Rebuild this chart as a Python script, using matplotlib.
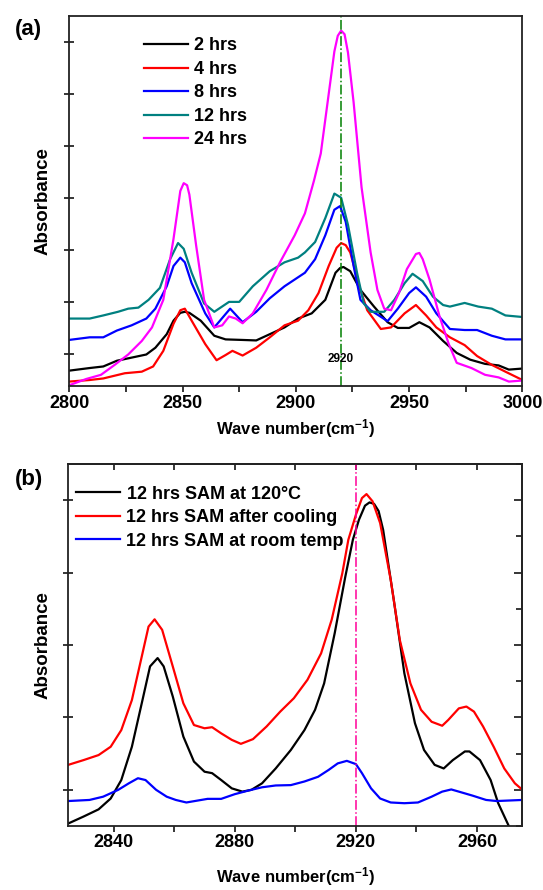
# FTIR absorbance spectra of SAM films: (a) growth time, (b) temperature
import matplotlib.pyplot as plt
from matplotlib.ticker import MultipleLocator, NullFormatter

plt.rcParams['font.family'] = ['Liberation Sans', 'DejaVu Sans']
plt.rcParams['font.weight'] = 'bold'
plt.rcParams['axes.labelweight'] = 'bold'
plt.rcParams['mathtext.fontset'] = 'custom'
plt.rcParams['mathtext.rm'] = 'Liberation Sans'
plt.rcParams['mathtext.default'] = 'regular'

# ---- panel (a) ----
x_2h = [2800, 2809, 2815, 2821, 2827.5, 2834, 2838, 2843, 2846, 2849, 2851, 2853, 2858, 2864,
        2869, 2876, 2882.5, 2888.5, 2895, 2901, 2907, 2913, 2917.5, 2919.5, 2921, 2924, 2928.5,
        2934.5, 2940.5, 2945, 2950, 2954.5, 2959, 2965, 2971, 2977, 2983.5, 2989.5, 2994, 3000]
y_2h = [0.69, 0.74, 0.77, 0.88, 0.94, 1.00, 1.13, 1.39, 1.65, 1.80, 1.82, 1.80, 1.65, 1.36,
        1.29, 1.28, 1.27, 1.39, 1.52, 1.69, 1.79, 2.05, 2.57, 2.66, 2.68, 2.60, 2.24,
        1.92, 1.62, 1.51, 1.51, 1.62, 1.52, 1.26, 1.03, 0.90, 0.82, 0.79, 0.71, 0.73]

x_4h = [2800, 2809, 2815, 2824.5, 2832, 2837, 2841.5, 2846, 2849, 2851, 2854, 2860, 2865, 2869,
        2872, 2876.5, 2882.5, 2888.5, 2895, 2901, 2905.5, 2910, 2914.5, 2918, 2920, 2922,
        2924, 2928.5, 2931.5, 2937.5, 2942, 2948, 2953, 2957.5, 2962, 2968, 2974.5, 2980,
        2986.5, 2992.5, 3000]
y_4h = [0.48, 0.51, 0.54, 0.64, 0.67, 0.77, 1.07, 1.59, 1.85, 1.88, 1.65, 1.20, 0.89, 0.99,
        1.07, 0.98, 1.13, 1.33, 1.56, 1.65, 1.85, 2.18, 2.70, 3.05, 3.14, 3.10,
        2.96, 2.24, 1.85, 1.49, 1.52, 1.79, 1.95, 1.75, 1.52, 1.33, 1.18, 0.97,
        0.80, 0.67, 0.51]

x_8h = [2800, 2809, 2815, 2821, 2827.5, 2834, 2838, 2843, 2846, 2849, 2851, 2854, 2860, 2864,
        2871, 2876.5, 2882.5, 2888.5, 2895, 2904, 2908.5, 2913, 2917, 2919.5, 2922, 2925.5,
        2928.5, 2933, 2940.5, 2945, 2950, 2953, 2957.5, 2962, 2968, 2974.5, 2980, 2986.5,
        2992.5, 3000]
y_8h = [1.28, 1.33, 1.33, 1.46, 1.56, 1.69, 1.88, 2.31, 2.70, 2.86, 2.77, 2.37, 1.79, 1.52,
        1.88, 1.62, 1.82, 2.08, 2.31, 2.57, 2.83, 3.29, 3.78, 3.85, 3.55, 2.70,
        2.05, 1.85, 1.64, 1.88, 2.18, 2.29, 2.11, 1.79, 1.49, 1.47, 1.47, 1.36,
        1.29, 1.29]

x_12h = [2800, 2809, 2815, 2821.5, 2826, 2830.5, 2835, 2840, 2844.5, 2848, 2850.5, 2854, 2859.5,
         2864, 2870.5, 2875, 2881, 2888.5, 2895, 2901, 2904, 2908.5, 2913, 2917, 2920, 2923,
         2927, 2930, 2933, 2939, 2943.5, 2948, 2951.5, 2956, 2960.5, 2965, 2968, 2974.5,
         2980.5, 2986.5, 2992.5, 3000]
y_12h = [1.69, 1.69, 1.75, 1.82, 1.88, 1.90, 2.05, 2.28, 2.83, 3.14, 3.03, 2.57, 1.98,
         1.82, 2.01, 2.01, 2.31, 2.60, 2.77, 2.86, 2.96, 3.16, 3.62, 4.09, 4.01, 3.49,
         2.57, 1.98, 1.82, 1.82, 2.05, 2.37, 2.55, 2.41, 2.11, 1.95, 1.92, 1.99,
         1.92, 1.88, 1.75, 1.72]

x_24h = [2800, 2807.5, 2814, 2820, 2826, 2832, 2836.5, 2841.5, 2846, 2849, 2850.5, 2852, 2853,
         2856, 2859.5, 2864, 2867.5, 2870.5, 2873.5, 2876.5, 2881, 2887, 2893, 2899.5, 2904,
         2908, 2911, 2914, 2917, 2918.5, 2920, 2921.5, 2923, 2925.5, 2929, 2933, 2936, 2939,
         2942, 2945.5, 2949, 2953, 2954.5, 2956, 2959, 2963.5, 2967.5, 2971, 2977.5, 2983.5,
         2989.5, 2994, 3000]
y_24h = [0.41, 0.53, 0.61, 0.80, 1.00, 1.26, 1.52, 2.05, 3.22, 4.14, 4.29, 4.25, 4.07,
         3.09, 2.05, 1.52, 1.56, 1.73, 1.69, 1.60, 1.79, 2.24, 2.77, 3.29, 3.71,
         4.34, 4.86, 5.84, 6.82, 7.12, 7.22, 7.15, 6.80, 5.84, 4.21, 2.96, 2.24, 1.88,
         1.85, 2.18, 2.64, 2.93, 2.95, 2.83, 2.44, 1.72, 1.20, 0.84, 0.74, 0.61,
         0.56, 0.48, 0.50]

labels_a = ['2 hrs', '4 hrs', '8 hrs', '12 hrs', '24 hrs']
colors_a = ['black', '#ff0000', '#0000ff', '#008080', '#ff00ff']

# ---- panel (b) ----
x_hot = [2825, 2830, 2835, 2839, 2842.5, 2846, 2849.5, 2852, 2854.5, 2856.5, 2859.5, 2863,
         2866.5, 2870, 2872.5, 2875.5, 2879, 2882.5, 2885.5, 2889, 2893.5, 2898.5, 2903,
         2906.5, 2909.5, 2913, 2916.5, 2919, 2921, 2923, 2924.5, 2926, 2927.5, 2929, 2932.5,
         2936, 2939.5, 2942.5, 2946, 2949, 2952, 2956, 2957.5, 2961, 2964.5, 2967, 2970.5,
         2975]
y_hot = [0.07, 0.26, 0.46, 0.76, 1.27, 2.19, 3.48, 4.41, 4.64, 4.41, 3.58, 2.47,
         1.78, 1.50, 1.46, 1.27, 1.04, 0.95, 1.00, 1.18, 1.59, 2.10, 2.65,
         3.21, 3.94, 5.33, 6.89, 7.91, 8.46, 8.85, 8.94, 8.90, 8.70, 8.18, 6.25,
         4.22, 2.84, 2.10, 1.69, 1.59, 1.82, 2.06, 2.06, 1.82, 1.27, 0.63, 0.0,
         -0.9]

x_cool = [2825, 2830, 2835, 2839, 2842.5, 2846, 2849.5, 2851.5, 2853.5, 2856, 2859.5, 2863,
          2866.5, 2870, 2872.5, 2875.5, 2879, 2882, 2886, 2890.5, 2895, 2899.5, 2904, 2908.5,
          2912, 2915.5, 2917.5, 2920, 2922, 2923.5, 2925.5, 2928, 2931.5, 2934.5, 2938,
          2941.5, 2945, 2948.5, 2950.5, 2954, 2956.5, 2959, 2962, 2965.5, 2969, 2972.5, 2975]
y_cool = [1.69, 1.82, 1.96, 2.19, 2.65, 3.48, 4.77, 5.51, 5.71, 5.42, 4.41, 3.39,
          2.79, 2.70, 2.73, 2.56, 2.38, 2.27, 2.40, 2.75, 3.16, 3.53, 4.04, 4.77,
          5.70, 6.98, 7.91, 8.60, 9.06, 9.17, 8.97, 8.37, 6.80, 5.14, 3.94,
          3.21, 2.88, 2.77, 2.93, 3.25, 3.30, 3.16, 2.75, 2.19, 1.59, 1.18, 1.0]

x_room = [2825, 2832, 2836.5, 2841.5, 2845, 2848, 2850.5, 2854, 2857.5, 2860.5, 2864, 2867.5,
          2871, 2875.5, 2880, 2884.5, 2889, 2893.5, 2898.5, 2903, 2907.5, 2911, 2914, 2917,
          2920, 2922, 2925, 2928, 2931.5, 2936, 2940.5, 2945, 2948.5, 2951.5, 2954, 2958.5,
          2963, 2966.5, 2975]
y_room = [0.69, 0.72, 0.81, 1.00, 1.18, 1.32, 1.27, 1.00, 0.81, 0.72, 0.65, 0.70,
          0.75, 0.75, 0.88, 0.98, 1.07, 1.12, 1.13, 1.23, 1.36, 1.55, 1.73, 1.80,
          1.71, 1.46, 1.04, 0.76, 0.65, 0.63, 0.65, 0.81, 0.95, 1.01, 0.95, 0.84,
          0.72, 0.69, 0.72]

labels_b = ['12 hrs SAM at 120$°C$', '12 hrs SAM after cooling', '12 hrs SAM at room temp']
colors_b = ['black', '#ff0000', '#0000ff']

peak_pos = 2920
xlabel = 'Wave number(cm$^{-1}$)'


def style_spines(ax):
    for sp in ax.spines.values():
        sp.set_linewidth(1.3)
        sp.set_color('#222222')


def main():
    fig = plt.figure(figsize=(5.43, 8.90), dpi=100)
    leg_kw = dict(loc='upper left', frameon=False, fontsize=13, borderpad=0, borderaxespad=0,
                  handlelength=2.45, handletextpad=0.3, labelspacing=0.36)

    # (a)
    ax = fig.add_axes([0.1276, 0.5660, 0.8345, 0.4160])
    series_a = [(x_2h, y_2h), (x_4h, y_4h), (x_8h, y_8h), (x_12h, y_12h), (x_24h, y_24h)]
    for (xs, ys), lab, col in zip(series_a, labels_a, colors_a):
        ax.plot(xs, ys, color=col, lw=1.6, label=lab, solid_joinstyle='round')
    ax.axvline(peak_pos, color='#008000', lw=1.1, ls='-.')
    ax.text(peak_pos, 0.92, str(peak_pos), ha='center', va='center', fontsize=8.5)

    ax.set_xlim(2800, 3000)
    ax.set_ylim(0.39, 7.5)
    ax.xaxis.set_major_locator(MultipleLocator(50))
    ax.xaxis.set_minor_locator(MultipleLocator(25))
    ax.yaxis.set_major_locator(MultipleLocator(1))
    ax.yaxis.set_major_formatter(NullFormatter())
    ax.tick_params(axis='x', which='both', direction='out', length=4, width=1.1,
                   labelsize=13, pad=2)
    ax.tick_params(axis='y', direction='inout', length=7, width=1.1)
    style_spines(ax)
    ax.set_xlabel(xlabel, fontsize=12, va='center')
    ax.xaxis.set_label_coords(0.5, -0.115)
    ax.set_ylabel('Absorbance', fontsize=13.5, va='center')
    ax.yaxis.set_label_coords(-0.058, 0.5)
    ax.legend(bbox_to_anchor=(0.165, 0.942), **leg_kw)
    fig.text(0.052, 0.967, '(a)', fontsize=16, ha='center', va='center')

    # (b)
    bx = fig.add_axes([0.1258, 0.0719, 0.8363, 0.4067])
    series_b = [(x_hot, y_hot), (x_cool, y_cool), (x_room, y_room)]
    for (xs, ys), lab, col in zip(series_b, labels_b, colors_b):
        bx.plot(xs, ys, color=col, lw=1.6, label=lab, solid_joinstyle='round')
    bx.axvline(peak_pos, color='#ff0099', lw=1.1, ls='-.')

    bx.set_xlim(2825, 2975)
    bx.set_ylim(0, 10)
    bx.xaxis.set_major_locator(MultipleLocator(40))
    bx.xaxis.set_minor_locator(MultipleLocator(20))
    bx.yaxis.set_major_locator(MultipleLocator(2, offset=1))
    bx.yaxis.set_major_formatter(NullFormatter())
    bx.tick_params(axis='x', which='both', direction='out', length=4, width=1.1,
                   labelsize=13, pad=2)
    bx.tick_params(axis='y', direction='inout', length=7, width=1.1)
    style_spines(bx)

    top = bx.secondary_xaxis('top')
    top.xaxis.set_major_locator(MultipleLocator(20))
    top.tick_params(direction='in', length=4, width=1.1, labeltop=False)
    right = bx.secondary_yaxis('right')
    right.yaxis.set_major_locator(MultipleLocator(2, offset=1))
    right.yaxis.set_minor_locator(MultipleLocator(1))
    right.tick_params(which='major', direction='in', length=6, width=1.1, labelright=False)
    right.tick_params(which='minor', direction='in', length=4, width=1.1)
    for sec in (top, right):
        for sp in sec.spines.values():
            sp.set_linewidth(1.3)
            sp.set_color('#222222')

    bx.set_xlabel(xlabel, fontsize=12, va='center')
    bx.xaxis.set_label_coords(0.5, -0.14)
    bx.set_ylabel('Absorbance', fontsize=13.5, va='center')
    bx.yaxis.set_label_coords(-0.056, 0.5)
    bx.legend(bbox_to_anchor=(0.017, 0.94), **leg_kw)
    fig.text(0.054, 0.461, '(b)', fontsize=16, ha='center', va='center')

    fig.savefig('out.png', dpi=100)


if __name__ == "__main__":
    main()
